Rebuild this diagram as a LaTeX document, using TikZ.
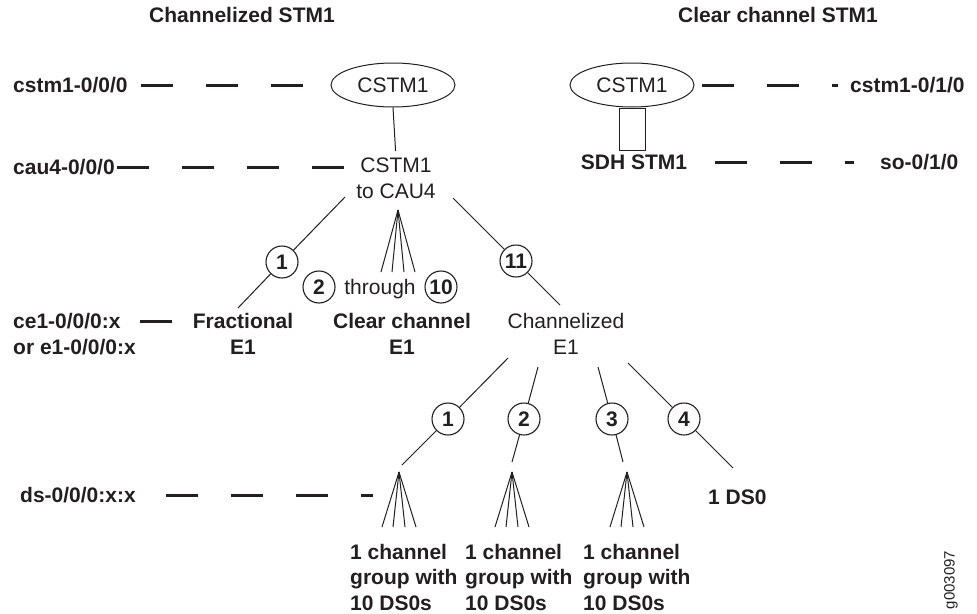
\documentclass[tikz,border=0pt]{standalone}
\usepackage{fontspec}
\setmainfont{Liberation Sans}
\usetikzlibrary{shapes.geometric}
\definecolor{ink}{HTML}{231F20}
\begin{document}
\begin{tikzpicture}[x=1pt,y=-1pt,
  every node/.style={text=ink, inner sep=0pt},
  lbl/.style={font=\bfseries\fontsize{21}{25.5}\selectfont},
  txt/.style={font=\fontsize{21}{25.5}\selectfont, align=center},
  ell/.style={ellipse, draw=ink, line width=1pt, minimum width=124pt, minimum height=44pt, font=\fontsize{21}{25.5}\selectfont},
  num/.style={circle, draw=ink, line width=1.1pt, minimum size=32pt, fill=white, font=\bfseries\fontsize{21}{25.5}\selectfont},
  thin/.style={draw=ink, line width=1pt},
  dashline/.style={draw=ink, line width=3pt, dash pattern=on 32pt off 33pt}]
\useasboundingbox (0,0) rectangle (977,613);

% titles
\node[lbl, anchor=base] (t1) at (242,23) {Channelized STM1};
\node[lbl, anchor=base] (t2) at (778,23) {Clear channel STM1};

% left labels
\node[lbl, anchor=base west] (lcstm) at (13,92.5) {cstm1-0/0/0};
\node[lbl, anchor=base west] (lcau) at (13,174.5) {cau4-0/0/0};
\node[lbl, anchor=west, align=left] (lce) at (13,334) {ce1-0/0/0:x\\or e1-0/0/0:x};
\node[lbl, anchor=base west] (lds) at (20,502.5) {ds-0/0/0:x:x};

% channelized STM1 tree
\node[ell] (e1) at (393,85) {CSTM1};
\node[txt] (cau) at (396,178.5) {CSTM1\\to CAU4};
\draw[thin, shorten >=7pt] (e1.south) -- (cau.north);

\node[num] (c1) at (282,262) {1};
\node[num] (c11) at (516,261) {11};
\coordinate (a1) at (345,197);
\coordinate (b1) at (238,308);
\coordinate (a11) at (453,198);
\coordinate (b11) at (560,305);
\draw[thin] (a1) -- (c1) -- (b1);
\draw[thin] (a11) -- (c11) -- (b11);

\coordinate (fanA) at (398,210);
\foreach \dx in {-17,-6,6,17} \draw[thin] (fanA) -- ++(\dx,62);
\node[num] (c2) at (319,287) {2};
\node[txt, anchor=base] (thr) at (380,294.5) {through};
\node[num] (c10) at (441,287) {10};

\node[lbl, align=center] (frac) at (243,334) {Fractional\\E1};
\node[lbl, align=center] (clr) at (402,334) {Clear channel\\E1};
\node[txt] (che) at (566,334) {Channelized\\E1};

% lower tree
\coordinate (s1) at (508,358); \coordinate (e1end) at (402,465);
\coordinate (s2) at (538,367); \coordinate (e2end) at (512,462);
\coordinate (s3) at (598,367); \coordinate (e3end) at (623,462);
\coordinate (s4) at (628,363); \coordinate (e4end) at (733,468);
\node[num] (d1) at (448,419) {1};
\node[num] (d2) at (524,419) {2};
\node[num] (d3) at (612,419) {3};
\node[num] (d4) at (684,419) {4};
\draw[thin] (s1) -- (d1) -- (e1end);
\draw[thin] (s2) -- (d2) -- (e2end);
\draw[thin] (s3) -- (d3) -- (e3end);
\draw[thin] (s4) -- (d4) -- (e4end);

\coordinate (f1) at (399,472);
\coordinate (f2) at (512,472);
\coordinate (f3) at (627,472);
\foreach \f in {f1,f2,f3}
  \foreach \dx in {-17,-6,6,17} \draw[thin] (\f) -- ++(\dx,55);

\node[lbl, anchor=base west] (ds0) at (708,504.5) {1 DS0};
\node[lbl, anchor=west, align=left] (g1) at (350,577) {1 channel\\group with\\10 DS0s};
\node[lbl, anchor=west, align=left] (g2) at (465,577) {1 channel\\group with\\10 DS0s};
\node[lbl, anchor=west, align=left] (g3) at (583,577) {1 channel\\group with\\10 DS0s};

% dashed leaders (left)
\coordinate (p1a) at (141,85); \coordinate (p1b) at (303,85);
\draw[dashline] (p1a) -- (p1b);
\coordinate (p2a) at (117,167); \coordinate (p2b) at (345,167);
\draw[dashline] (p2a) -- (p2b);
\coordinate (p3a) at (140,321); \coordinate (p3b) at (172,321);
\draw[dashline] (p3a) -- (p3b);
\coordinate (p4a) at (166,495); \coordinate (p4b) at (373,495);
\draw[dashline] (p4a) -- (p4b);

% clear channel STM1
\node[ell] (e2) at (632,85) {CSTM1};
\node[draw=ink, line width=1pt, minimum width=26pt, minimum height=42pt, anchor=north] (box) at (e2.south) {};
\node[lbl, anchor=base] (sdh) at (634,169.5) {SDH STM1};
\node[lbl, anchor=base west] (rcstm) at (850,92.5) {cstm1-0/1/0};
\node[lbl, anchor=base west] (rso) at (880,169.5) {so-0/1/0};
\coordinate (q1a) at (702,85); \coordinate (q1b) at (838,85);
\draw[dashline] (q1a) -- (q1b);
\coordinate (q2a) at (715,162); \coordinate (q2b) at (854,162);
\draw[dashline] (q2a) -- (q2b);

% figure id
\node[rotate=90, font=\fontsize{15}{18}\selectfont] (gid) at (951,580) {g003097};
\end{tikzpicture}
\end{document}
